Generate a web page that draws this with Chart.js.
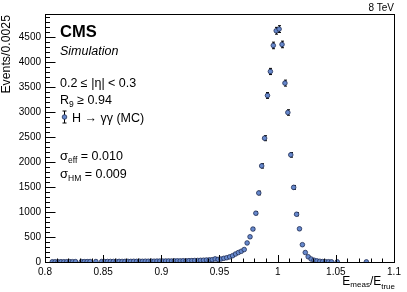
<!DOCTYPE html>
<html><head><meta charset="utf-8">
<script src="https://cdn.jsdelivr.net/npm/chart.js@4/dist/chart.umd.min.js"></script>
<style>html,body{margin:0;padding:0;background:#fff;}#wrap{width:407px;height:292px;position:relative;}</style>
</head><body><div id="wrap"><canvas id="c" width="407" height="292"></canvas></div>
<script>
// Bin centres (bin width 0.0025) of the non-empty bins
const binCenters = [
0.80625,0.80875,0.81125,0.81375,0.81625,0.81875,0.82125,0.82375,0.82625,
0.83125,0.83375,0.83625,0.83875,0.84375,0.84875,
0.85125,0.85375,0.85625,0.85875,0.86125,0.86375,0.86625,0.86875,0.87125,0.87375,
0.87625,0.87875,0.88125,0.88375,0.88625,0.88875,0.89125,0.89375,0.89625,0.89875,
0.90125,0.90375,0.90625,0.90875,0.91125,0.91375,0.91625,0.91875,0.92125,0.92375,
0.92625,0.92875,0.93125,0.93375,0.93625,0.93875,0.94125,0.94375,0.94625,0.94875,
0.95125,0.95375,0.95625,0.95875,0.96125,0.96375,0.96625,0.96875,0.97125,0.97375,
0.97625,0.97875,0.98125,0.98375,0.98625,0.98875,0.99125,0.99375,0.99625,0.99875,
1.00125,1.00375,1.00625,1.00875,1.01125,1.01375,1.01625,1.01875,1.02125,1.02375,
1.02625,1.02875,1.03125,1.03375,1.03625,1.03875,1.04125,1.04375,1.04625,1.05125,
1.07625];
// Events per bin (H -> gamma gamma MC)
const counts = [
4,5,4,6,5,6,7,6,7,
8,7,8,9,9,10,
9,10,11,10,11,12,11,12,13,12,
14,13,15,14,16,15,17,16,18,19,
18,20,21,20,22,23,22,25,24,27,
28,30,31,34,36,40,42,46,62,52,
60,74,86,103,126,160,190,215,250,382,
505,660,978,1383,1926,2481,3337,3818,4340,4634,
4668,4360,3585,2996,2147,1495,957,665,347,190,
105,60,36,22,14,9,6,5,4,3,
2];
// Vertical error bars (events)
const errors = [
2,2,2,2,2,2,3,2,3,
3,3,3,3,3,3,
3,3,3,3,3,3,3,3,4,3,
4,4,4,4,4,4,4,4,4,4,
4,4,5,4,5,5,5,5,5,5,
5,5,6,6,6,6,6,7,8,7,
8,9,9,10,11,13,14,15,16,20,
22,26,31,37,44,50,58,62,66,68,
68,66,60,55,46,39,31,26,19,14,
10,8,6,5,4,3,2,2,2,2,
1];
const xTicks = [0.8,0.85,0.9,0.95,1,1.05,1.1];
const yTicks = [0,500,1000,1500,2000,2500,3000,3500,4000,4500];
const xRange = [0.8, 1.1];
const yRange = [0, 4970];

const FONT = '"Liberation Sans", Arial, Helvetica, sans-serif';
const MARK_FILL = '#6688cc';
const MARK_EDGE = '#1f2d55';

function richText(ctx, x, y, parts, align) {
  let total = 0;
  parts.forEach(p => { ctx.font = (p.style||'') + ' ' + p.size + 'px ' + FONT; p.w = ctx.measureText(p.t).width; total += p.w; });
  let cx = align === 'right' ? x - total : x;
  ctx.textAlign = 'left';
  parts.forEach(p => { ctx.font = (p.style||'') + ' ' + p.size + 'px ' + FONT; ctx.fillText(p.t, cx, y + (p.dy||0)); cx += p.w; });
}

const decor = {
  id: 'decor',
  beforeDatasetsDraw(chart) {
    const {ctx, scales:{x, y}} = chart;
    ctx.save();
    ctx.strokeStyle = '#000';
    ctx.lineWidth = 1;
    binCenters.forEach((b, i) => {
      const px = Math.round(x.getPixelForValue(b)) + 0.5;
      const y1 = y.getPixelForValue(counts[i] + errors[i]);
      const y2 = y.getPixelForValue(Math.max(0, counts[i] - errors[i]));
      ctx.beginPath();
      ctx.moveTo(px, y1); ctx.lineTo(px, y2);
      ctx.moveTo(px - 1.5, y1); ctx.lineTo(px + 1.5, y1);
      ctx.moveTo(px - 1.5, y2); ctx.lineTo(px + 1.5, y2);
      ctx.stroke();
    });
    ctx.restore();
  },
  afterDraw(chart) {
    const {ctx, chartArea: a, scales:{x, y}} = chart;
    ctx.save();
    ctx.strokeStyle = '#000';
    ctx.lineWidth = 1;
    ctx.strokeRect(Math.round(a.left) + 0.5, Math.round(a.top) + 0.5, Math.round(a.right - a.left), Math.round(a.bottom - a.top));
    ctx.beginPath();
    for (let v = 80; v <= 110; v += 1) {
      const px = Math.round(x.getPixelForValue(v / 100)) + 0.5;
      const len = (v % 5 === 0) ? 7 : 3.5;
      ctx.moveTo(px, a.bottom); ctx.lineTo(px, a.bottom - len);
    }
    for (let v = 0; v <= 4900; v += 100) {
      const py = Math.round(y.getPixelForValue(v)) + 0.5;
      const len = (v % 500 === 0) ? 10.5 : 5;
      ctx.moveTo(a.left, py); ctx.lineTo(a.left + len, py);
    }
    ctx.stroke();

    ctx.fillStyle = '#000';
    ctx.textBaseline = 'alphabetic';
    ctx.font = '10px ' + FONT; ctx.textAlign = 'right';
    ctx.fillText('8 TeV', 394, 11);
    ctx.textAlign = 'left';
    ctx.font = 'bold 16.5px ' + FONT;
    ctx.fillText('CMS', 60, 37);
    ctx.font = 'italic 12.5px ' + FONT;
    ctx.fillText('Simulation', 60, 55);
    ctx.font = '12.5px ' + FONT;
    ctx.fillText('0.2 \u2264 |\u03b7| < 0.3', 60, 87);
    richText(ctx, 60, 104, [{t:'R', size:12.5}, {t:'9', size:8.5, dy:3}, {t:' \u2265 0.94', size:12.5}]);
    const lx = 64.5, ly = 117;
    ctx.beginPath();
    ctx.moveTo(lx, ly - 6); ctx.lineTo(lx, ly + 6);
    ctx.moveTo(lx - 2, ly - 6); ctx.lineTo(lx + 2, ly - 6);
    ctx.moveTo(lx - 2, ly + 6); ctx.lineTo(lx + 2, ly + 6);
    ctx.stroke();
    ctx.beginPath(); ctx.arc(lx, ly, 2.3, 0, Math.PI * 2);
    ctx.fillStyle = MARK_FILL; ctx.fill(); ctx.strokeStyle = MARK_EDGE; ctx.lineWidth = 0.8; ctx.stroke();
    ctx.fillStyle = '#000';
    ctx.font = '12.5px ' + FONT;
    ctx.fillText('H \u2192 \u03b3\u03b3 (MC)', 72, 122);
    richText(ctx, 60, 160, [{t:'\u03c3', size:13}, {t:'eff', size:8.5, dy:3}, {t:' = 0.010', size:12.5}]);
    richText(ctx, 60, 178, [{t:'\u03c3', size:13}, {t:'HM', size:8.5, dy:3}, {t:' = 0.009', size:12.5}]);
    richText(ctx, 395, 285, [{t:'E', size:12}, {t:'meas', size:8, dy:2}, {t:'/E', size:12}, {t:'true', size:8, dy:4}], 'right');
    ctx.save();
    ctx.translate(10, 15);
    ctx.rotate(-Math.PI / 2);
    ctx.textAlign = 'right';
    ctx.font = '12.3px ' + FONT;
    ctx.fillText('Events/0.0025', 0, 0);
    ctx.restore();
    ctx.restore();
  }
};

new Chart(document.getElementById('c'), {
  type: 'scatter',
  data: {
    datasets: [{
      data: binCenters.map((b, i) => ({x: b, y: counts[i]})),
      pointRadius: 2.3,
      pointBackgroundColor: MARK_FILL,
      pointBorderColor: MARK_EDGE,
      pointBorderWidth: 0.8,
      showLine: false
    }]
  },
  options: {
    responsive: false,
    animation: false,
    devicePixelRatio: 1,
    layout: {padding: {top: 14, right: 13, left: 0, bottom: 0}},
    plugins: {legend: {display: false}, tooltip: {enabled: false}},
    scales: {
      x: {
        type: 'linear', min: xRange[0], max: xRange[1],
        grid: {display: false, drawTicks: false},
        border: {display: false},
        afterBuildTicks: s => { s.ticks = xTicks.map(v => ({value: v})); },
        afterFit: s => { s.height = 30; },
        ticks: {
          padding: 4, maxRotation: 0, autoSkip: false, color: '#000',
          font: {family: FONT, size: 10},
          callback: v => String(Math.round(v * 100) / 100)
        }
      },
      y: {
        type: 'linear', min: yRange[0], max: yRange[1],
        grid: {display: false, drawTicks: false},
        border: {display: false},
        afterBuildTicks: s => { s.ticks = yTicks.map(v => ({value: v})); },
        afterFit: s => { s.width = 45; },
        ticks: {
          padding: 4, color: '#000',
          font: {family: FONT, size: 10},
          callback: v => String(v)
        }
      }
    }
  },
  plugins: [decor]
});
</script>
</body></html>
